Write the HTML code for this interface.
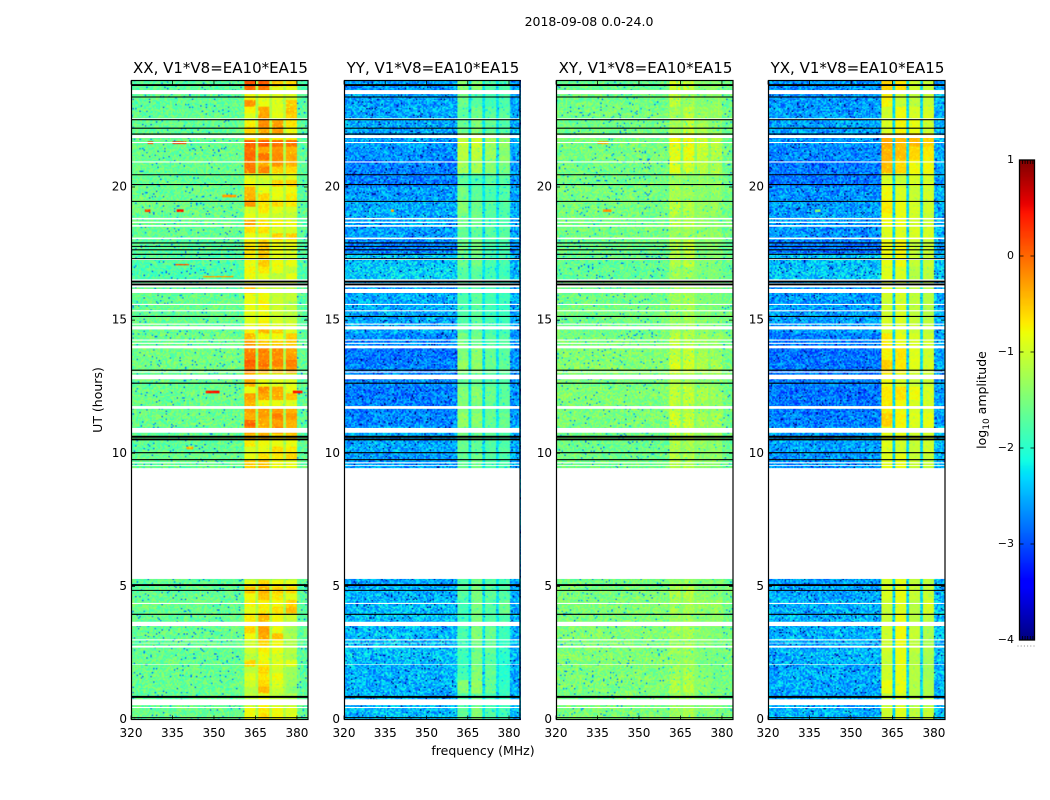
<!DOCTYPE html>
<html lang="en">
<head>
<meta charset="utf-8">
<title>2018-09-08 0.0-24.0 spectrogram</title>
<style>
html,body{margin:0;padding:0;background:#fff;}
#figure{position:relative;width:1050px;height:800px;overflow:hidden;background:#fff;font-family:"DejaVu Sans","Liberation Sans",sans-serif;}
#figure canvas{position:absolute;display:block;}
#overlay{position:absolute;left:0;top:0;}
#overlay text{font-family:"DejaVu Sans","Liberation Sans",sans-serif;fill:#000;}
</style>
</head>
<body>
<div id="figure">
  <canvas id="heat-0" width="128" height="480" style="left:131px;top:80px;width:177px;height:640px"></canvas>
  <canvas id="heat-1" width="128" height="480" style="left:344px;top:80px;width:177px;height:640px"></canvas>
  <canvas id="heat-2" width="128" height="480" style="left:556px;top:80px;width:177px;height:640px"></canvas>
  <canvas id="heat-3" width="128" height="480" style="left:768px;top:80px;width:177px;height:640px"></canvas>
  <canvas id="cbar" width="1" height="256" style="left:1019px;top:160px;width:16px;height:480px"></canvas>
  <svg id="overlay" width="1050" height="800" xmlns="http://www.w3.org/2000/svg">
    <text x="589" y="26" font-size="12.5" text-anchor="middle">2018-09-08 0.0-24.0</text>
    <text x="483" y="755" font-size="12.5" text-anchor="middle">frequency (MHz)</text>
    <text transform="translate(102,400) rotate(-90)" font-size="12.5" text-anchor="middle">UT (hours)</text>
    <text transform="translate(986,400) rotate(-90)" font-size="12.5" text-anchor="middle">log<tspan font-size="9" dy="3">10</tspan><tspan dy="-3"> amplitude</tspan></text>
  </svg>
</div>
<script>
// ---- data ----
const panelTitles = ["XX, V1*V8=EA10*EA15","YY, V1*V8=EA10*EA15","XY, V1*V8=EA10*EA15","YX, V1*V8=EA10*EA15"];
const freqTicks = [320,335,350,365,380];
const hourTicks = [0,5,10,15,20];
const colorTicks = [1,0,-1,-2,-3,-4];
const colorTickLabels = ["1","0","\u22121","\u22122","\u22123","\u22124"];

// frequency band edges in MHz: band A, B, C, D (gaps between)
const bandEdges = [[360.8,365],[365.9,370],[370.9,375],[375.9,380]];

// no-data time ranges (hours)
const gapHours = [[23.49,23.64],[22.53,22.58],[21.84,21.95],[21.65,21.69],[20.92,20.96],[18.78,18.84],[18.65,18.70],[18.51,18.57],[18.04,18.10],[17.26,17.30],[16.47,16.53],[16.23,16.39],[16.02,16.17],[15.57,15.61],[15.33,15.37],[14.83,14.87],[14.65,14.77],[14.23,14.27],[14.11,14.15],[13.94,14.04],[13.03,13.07],[12.78,12.95],[11.67,11.77],[10.77,10.95],[9.62,9.66],[9.52,9.55],[5.28,9.44],[4.34,4.38],[3.51,3.67],[2.97,3.01],[2.86,2.88],[2.70,2.77],[2.05,2.07],[0.54,0.76],[0.43,0.47]];
// black marker lines (hours)
const thinLineHours = [23.38,22.53,22.21,21.99,20.46,20.09,19.46,17.90,17.77,17.64,17.47,17.31,15.14,13.12,12.63,10.02,9.76,4.85,3.95,0.07];
const thickLineHours = [23.83,16.45,16.34,10.62,10.52,5.05,0.85];

// overall level in the gaps between bands, per panel
const gapLevelXX = -1.2, gapLevelYY = -2.25, gapLevelXY = -1.42, gapLevelYX = -2.3;
// level of the 380-384 MHz side band, per panel
const sideLevelXX = -1.68, sideLevelYY = -2.5, sideLevelXY = -1.55, sideLevelYX = -2.45;

// quiet 320-361 MHz level for each half hour, bottom to top
const quietXX = [-1.62,-1.64,-1.62,-1.62,-1.64,-1.64,-1.62,-1.64,-1.62,-1.64,-1.68,-1.64,-1.64,-1.64,-1.64,-1.64,-1.64,-1.64,-1.64,-1.64,-1.66,-1.66,-1.6,-1.62,-1.6,-1.64,-1.56,-1.56,-1.6,-1.64,-1.64,-1.64,-1.68,-1.8,-1.75,-1.72,-1.64,-1.64,-1.6,-1.62,-1.66,-1.64,-1.62,-1.62,-1.66,-1.66,-1.66,-1.72];
const quietYY = [-2.45,-2.5,-2.5,-2.5,-2.45,-2.45,-2.45,-2.45,-2.45,-2.5,-2.55,-2.6,-2.6,-2.6,-2.6,-2.6,-2.6,-2.6,-2.6,-2.6,-2.55,-2.55,-2.7,-2.75,-2.78,-2.7,-2.75,-2.8,-2.7,-2.55,-2.55,-2.55,-2.6,-2.35,-2.4,-2.75,-2.6,-2.55,-2.55,-2.6,-2.75,-2.75,-2.65,-2.6,-2.55,-2.55,-2.6,-2.6];
const quietXY = [-1.5,-1.53,-1.5,-1.5,-1.47,-1.5,-1.47,-1.5,-1.47,-1.5,-1.55,-1.55,-1.55,-1.55,-1.55,-1.55,-1.55,-1.55,-1.57,-1.57,-1.6,-1.57,-1.5,-1.5,-1.47,-1.53,-1.45,-1.47,-1.5,-1.57,-1.55,-1.57,-1.57,-1.67,-1.65,-1.6,-1.55,-1.55,-1.53,-1.53,-1.57,-1.55,-1.53,-1.53,-1.57,-1.55,-1.57,-1.63];
const quietYX = [-2.5,-2.55,-2.55,-2.55,-2.5,-2.5,-2.5,-2.5,-2.5,-2.55,-2.6,-2.65,-2.65,-2.65,-2.65,-2.65,-2.65,-2.65,-2.65,-2.65,-2.6,-2.6,-2.75,-2.78,-2.8,-2.75,-2.8,-2.82,-2.75,-2.6,-2.6,-2.6,-2.65,-2.4,-2.45,-2.8,-2.65,-2.6,-2.6,-2.65,-2.8,-2.8,-2.7,-2.65,-2.6,-2.6,-2.62,-2.65];

// band levels [A,B,C,D] for each quarter hour, bottom to top
const bandsXX = [
[-.8,-.6,-.8,-.9],[-.8,-.7,-.8,-.9],[-1,-.8,-1,-1.1],[-1.1,-.9,-1.1,-1.2],[-1.15,-.45,-1,-1.4],[-1,-.6,-.9,-1.3],[-.9,-.7,-.8,-1.3],[-1.1,-.6,-1,-1.3],
[-.6,-.75,-.9,-.9],[-1.1,-.8,-.95,-1.2],[-1,-.75,-.85,-1.15],[-1,-.6,-.8,-1.2],[-.8,-.35,-.5,-1.2],[-.55,-.3,-.85,-1.3],[-.7,-.45,-.8,-1.1],[-.7,-.45,-.8,-1],
[-.9,-.7,-.65,-.45],[-.75,-.75,-.8,-.6],[-.8,-.5,-.7,-.9],[-.5,-.4,-.55,-.6],[-.85,-.6,-.8,-.9],
null,null,null,null,null,null,null,null,null,null,null,null,null,null,null,null,
[-.55,-.5,-.8,-.85],[-.55,-.5,-.8,-.85],[-.85,-.65,-.7,-.6],[-.95,-.85,-.6,-.7],[-.7,-.8,-.85,-.85],[-.45,-.4,-.65,-.55],[-.2,-.45,-.15,-.4],
[0,-.35,-.3,-.4],[-.4,-.3,-.15,-.3],[-.3,-.3,-.3,-.4],[-.4,-.8,-.85,-.9],[-.3,-.35,-.35,-.5],[-.85,-.2,-.35,-.85],[-.4,-.85,-.9,-.9],[-.5,-.9,-.95,-1],
[-.1,-.2,-.35,-.25],[.05,-.05,-.15,-.1],[-.1,-.15,-.2,-.3],[-.15,-.15,-.2,-.35],[-.3,-.5,-.55,-.55],[-.45,-.75,-.8,-.55],[-.75,-.4,-.55,-.95],[-.9,-.75,-.95,-1],
[-.9,-.8,-1,-1.1],[-.85,-.8,-1,-1.1],[-.85,-.75,-1,-1.1],[-.8,-.8,-1.05,-1.05],[-.5,-.9,-1.1,-1.1],[-.85,-.9,-1,-1],[-.8,-.9,-1.1,-.85],[-.75,-.7,-.85,-1.05],
[-.8,-.55,-.8,-.85],[-.75,-.55,-.85,-.95],[-.65,-.5,-.85,-.9],[-.7,-.55,-.8,-.85],[-.85,-.9,-.55,-.55],[-.65,-.65,-.9,-.95],[-.3,-.65,-.75,-.8],[-.85,-.9,-1,-1.05],
[-.95,-.7,-.9,-1],[-.25,-.65,-.6,-.7],[-.4,-.6,-.85,-.7],[-.45,-.85,-.85,-.8],[-.8,-1,-.55,-.55],[-.9,-.95,-.95,-.9],[-.1,-.15,-.55,-.6],[-.1,-.35,-.25,-.4],
[0,-.05,-.2,-.35],[-.05,-.35,-.25,-.4],[.05,.05,-.05,-.05],[-.7,-.5,-.75,-.75],[-.6,-.3,-.25,-.8],[-.75,-.2,-.3,-.65],[-.9,-.3,-.85,-.55],[-.75,-.35,-.9,-.5],
[-.25,-.85,-.9,-.55],[-.8,-.85,-.9,-.95],[-.05,-.1,-.9,-.9],[.1,.05,-.5,-.6]];

// band levels [A,B,C,D] for each half hour, bottom to top
const bandsYY = [
[-1.65,-1.45,-1.75,-1.85],[-1.75,-1.65,-1.85,-1.9],[-1.45,-1.35,-1.6,-1.95],[-1.85,-1.45,-1.65,-2],[-1.9,-1.55,-1.7,-2],[-1.85,-1.55,-1.65,-1.95],[-1.8,-1.45,-1.6,-1.9],[-1.85,-1.5,-1.75,-1.8],[-1.85,-1.5,-1.75,-1.6],[-1.7,-1.5,-1.65,-1.75],[-1.75,-1.55,-1.75,-1.8],
null,null,null,null,null,null,null,
[-1.6,-1.55,-1.8,-1.8],[-1.65,-1.55,-1.75,-1.8],[-1.6,-1.65,-1.75,-1.75],[-1.55,-1.55,-1.7,-1.75],[-1.35,-1.4,-1.6,-1.6],[-1.45,-1.5,-1.65,-1.7],[-1.45,-1.4,-1.55,-1.7],[-1.65,-1.65,-1.75,-1.8],[-1.35,-1.4,-1.6,-1.65],[-1.5,-1.4,-1.65,-1.7],[-1.5,-1.55,-1.7,-1.75],[-1.75,-1.65,-1.8,-1.85],[-1.8,-1.7,-1.85,-1.9],[-1.8,-1.7,-1.85,-1.9],[-1.75,-1.75,-1.85,-1.9],[-1.7,-1.7,-1.85,-1.85],
[-1.6,-1.55,-1.8,-1.8],[-1.55,-1.5,-1.8,-1.8],[-1.65,-1.65,-1.7,-1.7],[-1.55,-1.6,-1.75,-1.8],[-1.45,-1.6,-1.7,-1.75],[-1.55,-1.7,-1.8,-1.75],[-1.7,-1.8,-1.7,-1.7],[-1.25,-1.25,-1.4,-1.5],[-1.15,-1.1,-1.3,-1.4],[-1.05,-1,-1.25,-1.35],[-1.6,-1.45,-1.65,-1.75],[-1.7,-1.55,-1.7,-1.7],[-1.55,-1.75,-1.85,-1.8],[-1.4,-1.4,-1.75,-1.8]];
const bandsXY = [
[-1.3,-1.2,-1.45,-1.5],[-1.35,-1.3,-1.5,-1.52],[-1.2,-1.15,-1.4,-1.55],[-1.3,-1.2,-1.45,-1.55],[-1.35,-1.3,-1.5,-1.55],[-1.3,-1.25,-1.45,-1.5],[-1.3,-1.25,-1.4,-1.5],[-1.35,-1.3,-1.45,-1.4],[-1.3,-1.25,-1.35,-1.3],[-1.25,-1.2,-1.4,-1.45],[-1.35,-1.3,-1.45,-1.5],
null,null,null,null,null,null,null,
[-1.2,-1.15,-1.45,-1.45],[-1.15,-1.2,-1.4,-1.4],[-1.2,-1.25,-1.4,-1.4],[-1.15,-1.15,-1.35,-1.35],[-1.0,-1.05,-1.25,-1.25],[-1.1,-1.1,-1.3,-1.35],[-1.1,-1.05,-1.2,-1.3],[-1.2,-1.25,-1.4,-1.4],[-.95,-1.0,-1.2,-1.2],[-1.1,-1.05,-1.25,-1.3],[-1.1,-1.15,-1.3,-1.35],[-1.3,-1.25,-1.4,-1.45],[-1.3,-1.25,-1.45,-1.5],[-1.3,-1.25,-1.45,-1.5],[-1.3,-1.3,-1.45,-1.5],[-1.3,-1.3,-1.5,-1.5],
[-1.2,-1.15,-1.45,-1.45],[-1.2,-1.1,-1.45,-1.45],[-1.3,-1.3,-1.35,-1.35],[-1.2,-1.2,-1.35,-1.4],[-1.1,-1.2,-1.3,-1.35],[-1.2,-1.3,-1.4,-1.35],[-1.3,-1.4,-1.35,-1.35],[-.95,-1,-1.15,-1.2],[-.9,-.85,-1.05,-1.15],[-.85,-.85,-1,-1.1],[-1.25,-1.1,-1.3,-1.4],[-1.3,-1.15,-1.35,-1.35],[-1.1,-1.3,-1.45,-1.4],[-1.0,-1.05,-1.4,-1.4]];
const bandsYX = [
[-1,-.9,-1.1,-1.05],[-1.1,-1,-1.2,-1.2],[-.85,-.85,-1.15,-1.2],[-1,-.85,-1.15,-1.25],[-1.05,-.85,-1.15,-1.25],[-1,-.85,-1.1,-1.2],[-1,-.8,-1.05,-1.2],[-1.05,-.85,-1.15,-1.1],[-1.05,-.9,-1.15,-.95],[-.95,-.85,-1.05,-1.05],[-1,-.9,-1.1,-1.1],
null,null,null,null,null,null,null,
[-.85,-.85,-1.1,-1.1],[-.9,-.85,-1.05,-1.05],[-.9,-1,-1.05,-1],[-.85,-.85,-1,-1],[-.55,-.75,-.9,-.85],[-.7,-.8,-.95,-.95],[-.7,-.65,-.8,-.95],[-.8,-.95,-1.05,-1.05],[-.55,-.7,-.9,-.95],[-.75,-.65,-.9,-1],[-.7,-.85,-.95,-1],[-.95,-.95,-1.05,-1.1],[-1,-.95,-1.1,-1.15],[-1,-.95,-1.1,-1.15],[-.95,-1,-1.15,-1.15],[-.9,-.95,-1.15,-1.1],
[-.85,-.8,-1.05,-1.05],[-.8,-.75,-1.05,-1.05],[-.9,-.9,-.95,-.95],[-.8,-.85,-1,-1.05],[-.7,-.85,-.95,-1],[-.8,-.95,-1.05,-1],[-.95,-1.05,-.95,-.95],[-.45,-.6,-.8,-.8],[-.4,-.45,-.6,-.7],[-.35,-.45,-.45,-.55],[-.95,-.75,-.85,-1],[-1,-.8,-.95,-.95],[-.75,-1.05,-1.1,-1.05],[-.55,-.65,-1,-1.05]];

// narrow interference streaks [hour, fromMHz, toMHz, level]
const streaksXX = [[21.65,326,328,.2],[21.65,335,340,.3],[19.1,325,327,.2],[19.1,336.5,339,.5],[19.65,353,358,-.3],[17.07,336,341,.1],[16.63,346,357,-.3],[12.3,347,352,.4],[12.3,378.5,382,.4],[10.2,340,342.5,-.4]];
const streaksYY = [[19.1,337,338,-.4]];
const streaksXY = [[19.1,337,340,-.2],[21.65,335,339,-.3]];
const streaksYX = [[19.1,337,339,-1.4]];

// per-cell texture table (channel-to-channel scatter, in units of the panel's scatter)
const grain = [.4,-.7,.1,.9,-.3,-1,.6,-.2,.8,-.5,.2,-.9,.3,1,-.6,-.1,.7,-3.8,.5,-.4,.9,-.8,.1,.3,-.2,-.7,1,.4,-.5,.6,-1,.2,-.3,.8,-.1,.5,-.9,.7,-.4,0,.3,-.6,.9,-3.2,.2,-.8,.6,-.2,1,-.5,.1,.4,-.7,.8,-1,.3,-.1,.6,-.4,.9,-.3,.2,-.8,.5,-.6,.7,0,-.9,.4,.1,-.2,1,-.5,.3,-.7,.8,-4,.6,-.1,-.4,.2,.9,-.6,.5,-1,.3,-.3,.7,-.8,.1,.4,-.2,.6,-.5,1,-.9,.2,-.1,.8,-.7,.3,-.4,.5,0,-.6,.9,-.3,-3.5,.7,.1,-.8,.4,-.2,.6,-1,.8,-.5,.3,-.1,.2,-.7,.9,-.4,.5,-.9,.1,-.3];

const panelLeft = [131,344,556,768];
const panelRight = [308,520,733,945];
const axisTop = 80.5, axisBottom = 719.5;
const freqMin = 320, freqMax = 384, hourMax = 24;
const colorMin = -4, colorMax = 1;

const panelBands = [bandsXX,bandsYY,bandsXY,bandsYX];
const panelQuiet = [quietXX,quietYY,quietXY,quietYX];
const panelGapLevel = [gapLevelXX,gapLevelYY,gapLevelXY,gapLevelYX];
const panelSide = [sideLevelXX,sideLevelYY,sideLevelXY,sideLevelYX];
const panelScatter = [.32,.42,.32,.42];
const panelBandGrain = [.3,.35,.7,.2];
const panelStreaks = [streaksXX,streaksYY,streaksXY,streaksYX];
const panelKeys = ["xx","yy","xy","yx"];

function lerpStops(t, s){
  for(let i=1;i<s.length;i++){
    if(t<=s[i][0]){
      const f=(t-s[i-1][0])/(s[i][0]-s[i-1][0]);
      return s[i-1][1]+f*(s[i][1]-s[i-1][1]);
    }
  }
  return s[s.length-1][1];
}
const jetR=[[0,0],[.35,0],[.66,1],[.89,1],[1,.5]];
const jetG=[[0,0],[.125,0],[.375,1],[.64,1],[.91,0],[1,0]];
const jetB=[[0,.5],[.11,1],[.34,1],[.65,0],[1,0]];
function jet(v){
  const t=Math.max(0,Math.min(1,(v-colorMin)/(colorMax-colorMin)));
  return [lerpStops(t,jetR)*255,lerpStops(t,jetG)*255,lerpStops(t,jetB)*255];
}

function grainAt(c,r,p){
  let h=(c*2053+p*101)^(r*7919)^((c*r)>>2);
  h=(h^(h>>5))&0x7fffffff;
  return grain[h%grain.length];
}

function drawHeatmap(p){
  const cv=document.getElementById('heat-'+p), ctx=cv.getContext('2d');
  const W=cv.width,H=cv.height,img=ctx.createImageData(W,H);
  const bands=panelBands[p],quiet=panelQuiet[p],streaks=panelStreaks[p],amp=panelScatter[p];
  for(let r=0;r<H;r++){
    const hour=hourMax*(1-(r+.5)/H);
    const bandRow=bands[Math.min(bands.length-1,Math.floor(hour/hourMax*bands.length))];
    const q=quiet[Math.min(quiet.length-1,Math.floor(hour/hourMax*quiet.length))];
    for(let c=0;c<W;c++){
      const f=freqMin+(c+.5)/W*(freqMax-freqMin);
      const g=grainAt(c,r,p);
      let v,k=1;
      if(f<bandEdges[0][0]) v=q;
      else if(f>=bandEdges[3][1]) v=panelSide[p]+(q-panelQuiet[p][0])*.5;
      else{
        v=panelGapLevel[p]; k=.35;
        if(bandRow){
          for(let b=0;b<4;b++) if(f>=bandEdges[b][0]&&f<bandEdges[b][1]){v=bandRow[b];k=panelBandGrain[p];}
        }
      }
      for(const s of streaks){
        if(Math.abs(hour-s[0])<.03&&f>=s[1]&&f<=s[2]){v=s[3];k=.3;}
      }
      const col=jet(v+g*amp*k);
      const i=(r*W+c)*4;
      img.data[i]=col[0];img.data[i+1]=col[1];img.data[i+2]=col[2];img.data[i+3]=255;
    }
  }
  ctx.putImageData(img,0,0);
}

function drawColorbar(){
  const cv=document.getElementById('cbar'),ctx=cv.getContext('2d');
  for(let y=0;y<cv.height;y++){
    const v=colorMax-(y+.5)/cv.height*(colorMax-colorMin);
    const c=jet(v);
    ctx.fillStyle='rgb('+c.map(Math.round).join(',')+')';
    ctx.fillRect(0,y,1,1);
  }
}

const NS='http://www.w3.org/2000/svg';
const overlay=document.getElementById('overlay');
function mk(tag,attrs,parent,text){
  const e=document.createElementNS(NS,tag);
  for(const k in attrs) e.setAttribute(k,attrs[k]);
  if(text!==undefined) e.textContent=text;
  (parent||overlay).appendChild(e);
  return e;
}

function drawPanel(p){
  const L=panelLeft[p],R=panelRight[p],key=panelKeys[p];
  const xOf=f=>L+(f-freqMin)/(freqMax-freqMin)*(R-L);
  const yOf=h=>axisBottom-h/hourMax*(axisBottom-axisTop);
  const g=mk('g',{});
  
  
  gapHours.forEach(function(gp){
    const e=mk('rect',{x:L,y:yOf(gp[1]),width:R-L,height:yOf(gp[0])-yOf(gp[1]),fill:'#fff'},g);
    
    
  });
  thinLineHours.forEach(function(h){
    const e=mk('line',{x1:L,x2:R,y1:yOf(h),y2:yOf(h),stroke:'#000','stroke-width':1.1},g);
    
    
  });
  thickLineHours.forEach(function(h){
    const e=mk('line',{x1:L,x2:R,y1:yOf(h),y2:yOf(h),stroke:'#000','stroke-width':1.9},g);
    
    
  });
  const sp=mk('rect',{x:L+.5,y:axisTop,width:R-L-.5,height:axisBottom-axisTop,fill:'none',stroke:'#000','stroke-width':1.2},g);
  
  
  freqTicks.forEach(function(f){
    const x=xOf(f);
    const a=mk('path',{d:'M'+x+' '+axisBottom+'v-4M'+x+' '+axisTop+'v4',stroke:'#000','stroke-width':.8,fill:'none'},g);
    
    
    const t=mk('text',{x:x,y:737,'font-size':12,'text-anchor':'middle'},g,String(f));
    
    
  });
  hourTicks.forEach(function(h){
    const y=yOf(h);
    const a=mk('path',{d:'M'+L+' '+y+'h4M'+R+' '+y+'h-4',stroke:'#000','stroke-width':.8,fill:'none'},g);
    
    
    const t=mk('text',{x:L-4,y:y+3.5,'font-size':12,'text-anchor':'end'},g,String(h));
    
    
  });
  const title=mk('text',{x:(L+R)/2+1,y:73,'font-size':15,'text-anchor':'middle'},g,panelTitles[p]);
  
  
}

function drawColorbarAxis(){
  const g=mk('g',{});
  
  
  const L=1019.5,R=1034.5,T=160,B=640;
  const yOf=v=>T+(colorMax-v)/(colorMax-colorMin)*(B-T);
  const f=mk('rect',{x:L,y:T,width:R-L,height:B-T,fill:'none',stroke:'#000','stroke-width':1.3},g);
  
  
  colorTicks.forEach(function(v,i){
    const y=yOf(v);
    if(v!==colorMax&&v!==colorMin){
      const a=mk('path',{d:'M'+L+' '+y+'h4M'+R+' '+y+'h-4',stroke:'#000','stroke-width':.8,fill:'none'},g);
      
      
    }
    const t=mk('text',{x:1014,y:y+3,'font-size':11,'text-anchor':'end'},g,colorTickLabels[i]);
    
    
  });
  for(let i=0;i<5;i++){
    const x=1022.5+i*2.6;
    const a=mk('path',{d:'M'+x+' '+T+'v4M'+x+' '+B+'v-4',stroke:'#000','stroke-width':.8,fill:'none'},g);
    
    
  }
  for(let i=0;i<6;i++){
    const d=mk('rect',{x:1017.5+i*3.2,y:645.5,width:1,height:1,fill:'#888'},g);
    
    
  }
}

for(let p=0;p<4;p++){drawHeatmap(p);drawPanel(p);}
drawColorbar();
drawColorbarAxis();
</script>
</body>
</html>
